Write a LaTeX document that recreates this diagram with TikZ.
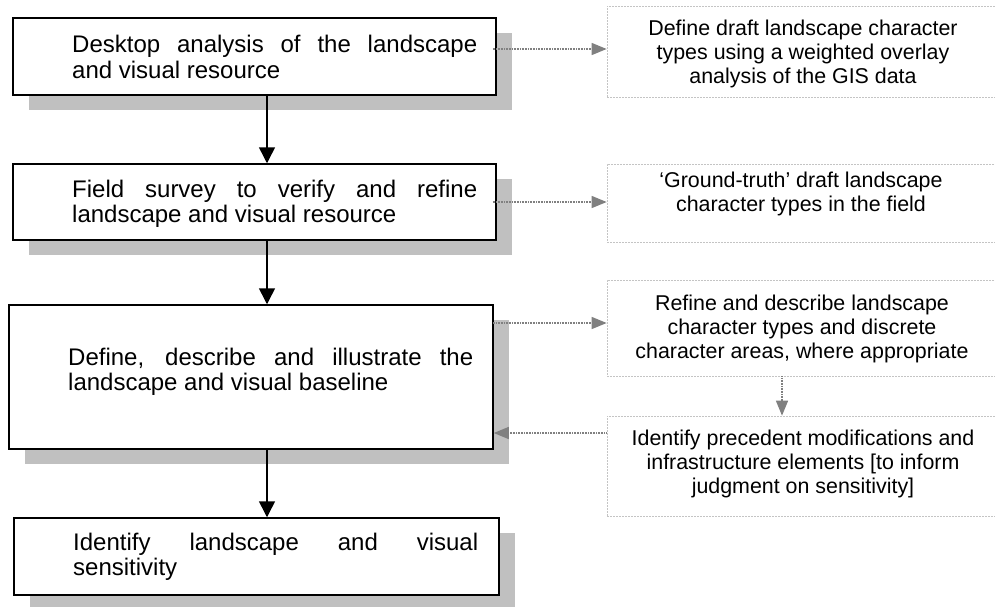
\documentclass[tikz,border=0pt]{standalone}
\usepackage{fontspec}
\setmainfont{Liberation Sans}
\usetikzlibrary{arrows.meta,shadows,calc}
\definecolor{shade}{HTML}{C0C0C0}
\definecolor{linkgray}{HTML}{808080}
\definecolor{framegray}{HTML}{C4C4C4}
\begin{document}
\begin{tikzpicture}[x=1pt,y=-1pt,
  stage/.style={draw=black, line width=1.5pt, fill=white, rectangle, inner sep=0pt,
    drop shadow={shadow xshift=16pt, shadow yshift=-15pt, opacity=1, fill=shade}},
  task/.style={draw=framegray, line width=0.7pt, dash pattern=on 2pt off 1pt,
    fill=white, rectangle, inner sep=0pt, minimum width=396pt},
  stagetext/.style={text width=405pt, align=justify, inner sep=0pt, anchor=base west,
    font=\fontsize{24}{25.5}\selectfont},
  tasktext/.style={align=center, inner sep=0pt, anchor=base,
    font=\fontsize{21.4}{24}\selectfont},
  flow/.style={draw=black, line width=1.5pt, -{Triangle[width=16pt,length=16pt]}},
  link/.style={draw=linkgray, line width=1.4pt, dash pattern=on 1pt off 0.6pt,
    -{Triangle[width=12pt,length=15pt]}}
]
\useasboundingbox (0,0) rectangle (995,606);
\clip (0,0) rectangle (995,606);

% main stages
\node[stage, minimum width=483pt, minimum height=77pt] (b1) at (254.5,56.5) {};
\node[stage, minimum width=483pt, minimum height=76pt] (b2) at (254.5,202) {};
\node[stage, minimum width=484pt, minimum height=144pt] (b3) at (251,377) {};
\node[stage, minimum width=485pt, minimum height=77pt] (b4) at (256.5,556.5) {};

% stage texts (anchored on the baseline of their first line)
\node[stagetext] (t1) at (72,52.5) {Desktop analysis of the landscape\linebreak and visual resource};
\node[stagetext] (t2) at (72,197) {Field survey to verify and refine\linebreak landscape and visual resource};
\node[stagetext] (t3) at (68,365) {Define, describe and illustrate the\linebreak landscape and visual baseline};
\node[stagetext] (t4) at (73,550) {Identify landscape and visual\linebreak sensitivity};

% supporting tasks
\node[task, minimum height=91pt] (ra) at (805,51.5) {};
\node[task, minimum height=78pt] (rb) at (805,203) {};
\node[task, minimum height=96pt] (rc) at (805,328) {};
\node[task, minimum height=100pt] (rd) at (805,466) {};

% task texts (anchored on the baseline of their last line)
\node[tasktext] (sa) at (803,83) {Define draft landscape character\\types using a weighted overlay\\analysis of the GIS data};
\node[tasktext] (sb) at (801,211) {‘Ground-truth’ draft landscape\\character types in the field};
\node[tasktext] (sc) at (802,358) {Refine and describe landscape\\character types and discrete\\character areas, where appropriate};
\node[tasktext] (sd) at (803,493) {Identify precedent modifications and\\infrastructure elements [to inform\\judgment on sensitivity]};

% main sequence
\coordinate (spine) at (267,0);
\draw[flow] (b1.south -| spine) -- (b2.north -| spine);
\draw[flow] (b2.south -| spine) -- (b3.north -| spine);
\draw[flow] (b3.south -| spine) -- (b4.north -| spine);

% links to the supporting tasks
\coordinate (ya) at (0,49);
\coordinate (yb) at (0,202);
\coordinate (yc) at (0,323);
\coordinate (yd) at (0,433);
\coordinate (xv) at (782,0);
\draw[link] ($(b1.east |- ya)+(-4,0)$) -- (ra.west |- ya);
\draw[link] ($(b2.east |- yb)+(-4,0)$) -- (rb.west |- yb);
\draw[link] ($(b3.east |- yc)+(-1,0)$) -- (rc.west |- yc);
\draw[link] (rc.south -| xv) -- (rd.north -| xv);
\draw[link] (rd.west |- yd) -- (b3.east |- yd);
\end{tikzpicture}
\end{document}
